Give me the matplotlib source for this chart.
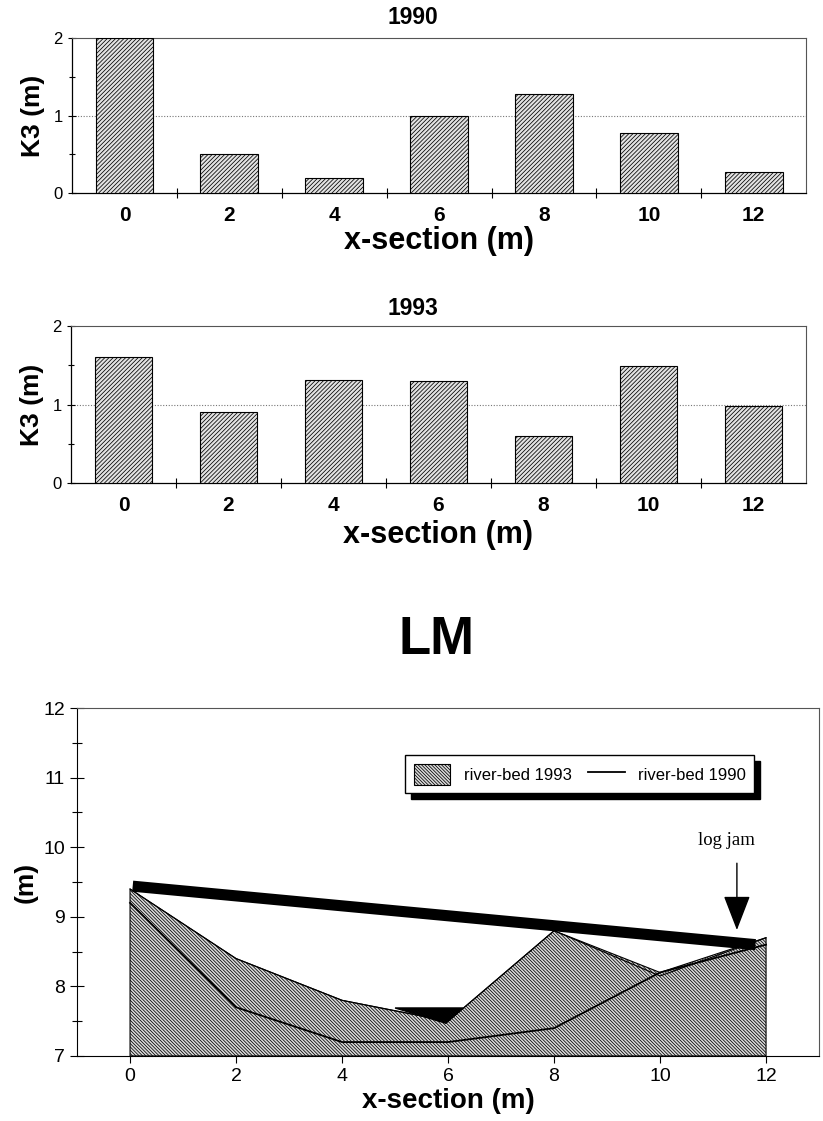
import numpy as np
import matplotlib
matplotlib.use("Agg")
import matplotlib.pyplot as plt
from matplotlib.ticker import MultipleLocator, FixedLocator

plt.rcParams['font.family'] = ['Liberation Sans', 'DejaVu Sans']
plt.rcParams['hatch.linewidth'] = 0.55

# bar data (K3 per cross-section)
sections = ['0', '2', '4', '6', '8', '10', '12']
k3_1990 = [2.0, 0.50, 0.19, 0.99, 1.28, 0.77, 0.27]
k3_1993 = [1.61, 0.90, 1.31, 1.30, 0.60, 1.49, 0.98]

# river-bed profile (LM)
bed_x = [0, 2, 4, 6, 8, 10, 12]
bed_1993 = [9.4, 8.4, 7.8, 7.5, 8.8, 8.15, 8.7]
bed_1990 = [9.2, 7.7, 7.2, 7.2, 7.4, 8.2, 8.6]
surface_x = [0.05, 11.8]
surface_y = [9.44, 8.6]
marker_x = [5.0, 6.28, 5.96]
marker_y = [7.69, 7.69, 7.47]
jam_x = 11.45
jam_text_y = 10.1
jam_top, jam_tip = 9.77, 8.81

fig = plt.figure(figsize=(8.23, 11.21), dpi=100)


def bar_panel(rect, values, xpad):
    ax = fig.add_axes(rect)
    pos = np.arange(len(values))
    ax.bar(pos, values, width=0.55, color='#e2e2e2', edgecolor='black',
           hatch='////////', linewidth=0.8, zorder=3)
    ax.set_xlim(-0.5, len(values) - 0.5)
    ax.set_ylim(0, 2)
    ax.yaxis.set_major_locator(MultipleLocator(1))
    ax.yaxis.set_minor_locator(MultipleLocator(0.5))
    ax.axhline(1, color='#777777', lw=0.8, ls=(0, (1, 1.5)), zorder=1)
    ax.set_xticks(pos)
    ax.set_xticklabels(sections, fontweight='bold', fontsize=15)
    ax.xaxis.set_minor_locator(FixedLocator(pos[:-1] + 0.5))
    ax.tick_params(axis='x', which='major', length=0, pad=9)
    ax.tick_params(axis='x', which='minor', length=7, direction='inout', width=0.8)
    ax.tick_params(axis='y', which='major', length=6, direction='inout', labelsize=12, width=0.8)
    ax.tick_params(axis='y', which='minor', length=4, direction='inout', width=0.8)
    for s in ['top', 'right']:
        ax.spines[s].set_color('#555555')
        ax.spines[s].set_linewidth(0.8)
    ax.spines['left'].set_linewidth(0.9)
    ax.spines['bottom'].set_linewidth(0.9)
    ax.set_ylabel('K3 (m)', fontsize=19, fontweight='bold', labelpad=6)
    ax.set_xlabel('x-section (m)', fontsize=22, fontweight='bold', labelpad=xpad)
    return ax


ax1 = bar_panel([0.0875, 0.8278, 0.892, 0.1383], k3_1990, 1)
ax2 = bar_panel([0.0863, 0.5691, 0.893, 0.1400], k3_1993, 4)
fig.text(0.502, 0.984, '1990', ha='center', va='center', fontsize=16.5, fontweight='bold')
fig.text(0.502, 0.725, '1993', ha='center', va='center', fontsize=16.5, fontweight='bold')
fig.text(0.530, 0.429, 'LM', ha='center', va='center', fontsize=38, fontweight='bold')

# bottom panel: river-bed profile
ax3 = fig.add_axes([0.0936, 0.058, 0.9016, 0.3104])
ax3.fill_between(bed_x, np.maximum(bed_1993, bed_1990), 7, facecolor='#dadada',
                 edgecolor='black', hatch='\\\\\\\\\\\\\\\\\\\\', linewidth=0.8,
                 label='river-bed 1993', zorder=2)
ax3.plot(bed_x, bed_1993, color='black', lw=0.8, zorder=3)
ax3.plot(bed_x, bed_1990, color='black', lw=1.3, label='river-bed 1990', zorder=4)
ax3.plot(surface_x, surface_y, color='black', lw=8, solid_capstyle='butt', zorder=5)
ax3.fill(marker_x, marker_y, color='black', zorder=5)
ax3.text(jam_x - 0.2, jam_text_y, 'log jam', family=['Liberation Serif', 'DejaVu Serif'],
         fontsize=13.5, ha='center', va='center')
ax3.annotate('', xy=(jam_x, jam_tip), xytext=(jam_x, jam_top),
             arrowprops=dict(arrowstyle='-|>,head_width=0.85,head_length=2.2',
                             color='black', lw=1.0, shrinkA=0, shrinkB=0), zorder=6)
ax3.set_xlim(-1, 13)
ax3.set_ylim(7, 12)
ax3.set_xticks(range(0, 13, 2))
ax3.yaxis.set_major_locator(MultipleLocator(1))
ax3.yaxis.set_minor_locator(MultipleLocator(0.5))
ax3.tick_params(axis='x', length=5, direction='out', labelsize=14, width=0.8)
ax3.tick_params(axis='y', which='major', length=10, direction='inout', labelsize=14, width=0.8)
ax3.tick_params(axis='y', which='minor', length=7, direction='inout', width=0.8)
for s in ['top', 'right']:
    ax3.spines[s].set_color('#555555')
    ax3.spines[s].set_linewidth(0.8)
ax3.set_ylabel('(m)', fontsize=19, fontweight='bold', labelpad=4)
ax3.set_xlabel('x-section (m)', fontsize=20, fontweight='bold', labelpad=2)
leg = ax3.legend(loc='upper right', bbox_to_anchor=(0.924, 0.888), ncol=2,
                 fancybox=False, edgecolor='black', framealpha=1,
                 shadow={'color': 'black', 'alpha': 1, 'ox': 4, 'oy': -4},
                 prop={'family': ['Liberation Sans Narrow', 'Liberation Sans'], 'size': 12},
                 handlelength=2.2, handleheight=1.6, columnspacing=1.0, borderpad=0.5)
leg.get_frame().set_linewidth(1.0)

fig.savefig('out.png', dpi=100)
